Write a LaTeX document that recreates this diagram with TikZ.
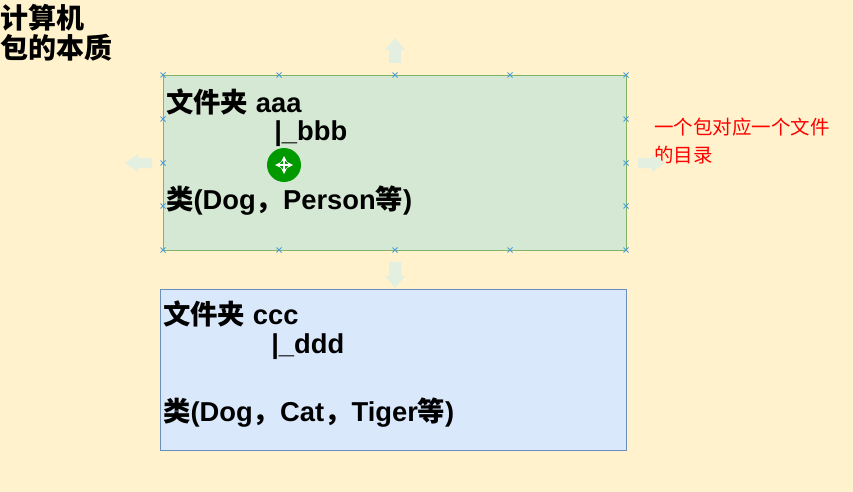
\documentclass[tikz,border=0pt]{standalone}
\usepackage{fontspec}
\setmainfont{Liberation Sans}
\newfontfamily\cjk{Noto Sans CJK SC}
\usetikzlibrary{positioning}
\definecolor{bgc}{HTML}{FFF2CC}
\definecolor{greenfill}{HTML}{D5E8D4}
\definecolor{greenline}{HTML}{82B366}
\definecolor{bluefill}{HTML}{DAE8FC}
\definecolor{blueline}{HTML}{6C8EBF}
\definecolor{handle}{HTML}{4A9FD8}
\begin{document}
\begin{tikzpicture}[x=0.75pt,y=-0.75pt]
  \tikzstyle{txt} = [anchor=west, inner sep=0pt, font=\bfseries\fontsize{20.5}{24}\selectfont]
  \tikzstyle{head} = [anchor=west, inner sep=0pt, font=\cjk\bfseries\fontsize{21}{24}\selectfont]
  \tikzstyle{note} = [anchor=west, inner sep=0pt, text=red, font=\cjk\fontsize{14.6}{17}\selectfont]
  \tikzstyle{hdl} = [handle, line width=0.6pt]
  \tikzstyle{ghost} = [draw=none, fill=greenfill!70!white]

  \fill[bgc] (0,0) rectangle (853,492);
  \useasboundingbox (0,0) rectangle (853,492);

  \node(title1) [head] at (0,18) {计算机};
  \node(title2) [head] at (0,48) {包的本质};

  \draw[fill=greenfill, draw=greenline] (163,75) rectangle (626,250);
  \node(aaa) [txt] at (166,102) {{\cjk 文件夹} aaa};
  \node(bbb) [txt] at (274,134) {|\_bbb};
  \node(cls1) [txt] at (166,201) {{\cjk 类}(Dog{\cjk ，}Person{\cjk 等})};

  \draw[fill=bluefill, draw=blueline] (160,289) rectangle (626,450);
  \node(ccc) [txt] at (163,314) {{\cjk 文件夹} ccc};
  \node(ddd) [txt] at (271,347) {|\_ddd};
  \node(cls2) [txt] at (163,413) {{\cjk 类}(Dog{\cjk ，}Cat{\cjk ，}Tiger{\cjk 等})};

  \node(note1) [note] at (654,127) {一个包对应一个文件};
  \node(note2) [note] at (654,155) {的目录};

  % selection handles
  \foreach \x in {163,279,395,510,626}
    \foreach \y in {75,250}
      \draw[hdl] (\x-2.5,\y-2.5) -- (\x+2.5,\y+2.5) (\x-2.5,\y+2.5) -- (\x+2.5,\y-2.5);
  \foreach \y in {119,163,206}
    \foreach \x in {163,626}
      \draw[hdl] (\x-2.5,\y-2.5) -- (\x+2.5,\y+2.5) (\x-2.5,\y+2.5) -- (\x+2.5,\y-2.5);

  % hover arrows
  \fill[ghost] (389,63) -- (389,50) -- (385,50) -- (395,38) -- (405,50) -- (401,50) -- (401,63) -- cycle;
  \fill[ghost] (389,262) -- (389,276) -- (385,276) -- (395,288) -- (405,276) -- (401,276) -- (401,262) -- cycle;
  \fill[ghost] (152,158) -- (138,158) -- (138,154) -- (125,163) -- (138,172) -- (138,168) -- (152,168) -- cycle;
  \fill[ghost] (638,158) -- (652,158) -- (652,154) -- (665,163) -- (652,172) -- (652,168) -- (638,168) -- cycle;
  \fill[green!60!black] (284,165) circle (17);
  \draw[white, line width=1pt, <->, >=stealth] (275,165) -- (293,165);
  \draw[white, line width=1pt, <->, >=stealth] (284,156) -- (284,174);
\end{tikzpicture}
\end{document}
